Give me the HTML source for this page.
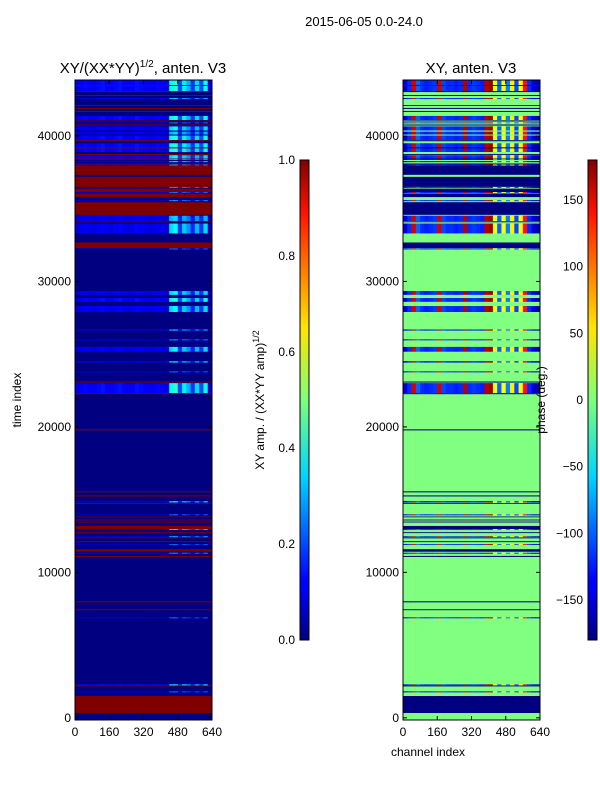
<!DOCTYPE html>
<html><head><meta charset="utf-8">
<style>
body{margin:0;background:#fff;}
svg text{font-family:"Liberation Sans",sans-serif;fill:#000;}
</style></head>
<body>
<svg id="fig" width="600" height="800" viewBox="0 0 600 800" xmlns="http://www.w3.org/2000/svg">
<defs>
<linearGradient id="jet" x1="0" y1="1" x2="0" y2="0">
<stop offset="0" stop-color="#00007f"/><stop offset="0.11" stop-color="#0000ff"/><stop offset="0.125" stop-color="#0000ff"/><stop offset="0.34" stop-color="#00d4ff"/><stop offset="0.5" stop-color="#7dff7a"/><stop offset="0.65" stop-color="#ffe600"/><stop offset="0.89" stop-color="#ff1300"/><stop offset="1" stop-color="#7f0000"/>
</linearGradient>
</defs>
<text x="364" y="26" font-size="13" text-anchor="middle">2015-06-05 0.0-24.0</text>
<text x="143" y="73" font-size="15" text-anchor="middle">XY/(XX*YY)<tspan font-size="10" dy="-6">1/2</tspan><tspan dy="6">, anten. V3</tspan></text>
<text x="471" y="73" font-size="15" text-anchor="middle">XY, anten. V3</text>
<text transform="translate(21,400) rotate(-90)" font-size="12" text-anchor="middle">time index</text>
<text x="428" y="756" font-size="12" text-anchor="middle">channel index</text>
<g id="left"></g>
<g id="right"></g>
<g id="axes"></g>
<rect x="300" y="160" width="9" height="480" fill="url(#jet)" stroke="#000" stroke-width="1"/>
<rect x="588" y="160" width="9" height="480" fill="url(#jet)" stroke="#000" stroke-width="1"/>
<text transform="translate(264,400) rotate(-90)" font-size="12" text-anchor="middle">XY amp. / (XX*YY amp)<tspan font-size="9" dy="-5">1/2</tspan></text>
<text transform="translate(545,400) rotate(-90)" font-size="12" text-anchor="middle">phase (deg.)</text>
</svg>
<script>
// time bands: [t0, t1, kind]  kind F=flagged block, L=flagged line, A=active data
const bandStart=[43500,43440,43090,43020,42750,42540,42070,41860,41650,41100,41000,40870,40720,40380,40100,39720,39640,38900,39150,38700,38350,38400,38200,38040,37970,37330,36500,36430,36150,36080,35800,35520,34580,34150,34070,33300,32600,32290,32200,29080,28600,27900,26620,25950,25170,24420,23750,23050,22330,22250,19760,15500,15220,14800,14720,13920,13790,13570,13430,12980,12910,12700,12420,12340,12080,11880,11420,11280,11060,7940,7400,6840,2230,2160,1750,330];
const bandEnd=[43850,43500,43440,43090,42820,42610,42130,41930,41720,41380,41070,40930,40790,40660,40300,40030,39710,39500,39220,38760,38680,38450,38280,38110,38040,37970,37190,36500,36380,36150,36050,35590,35450,34520,34130,33980,32680,32640,32270,29340,28860,28310,26700,26020,25500,24520,23820,23120,23010,22320,19830,15570,15290,14900,14770,13990,13840,13630,13490,13190,12970,12760,12480,12400,12140,11940,11590,11350,11130,8010,7460,6910,2300,2220,1820,1500];
const bandKind=["A","L","A","L","L","A","L","L","L","A","L","A","L","A","A","A","L","A","L","L","A","L","A","L","A","F","F","A","F","A","F","A","F","A","L","A","L","F","A","A","A","A","A","A","A","A","A","L","A","L","L","L","L","A","L","A","L","L","L","F","A","L","A","L","L","A","F","A","L","L","L","A","A","L","A","F"];
const bandLevel=[1.0,1,1.0,1,1,0.8,1,1,1,1.0,1,0.7,1,0.9,0.8,1.0,1,1.0,1,1,0.9,1,0.8,1,0.7,1,1,0.7,1,0.6,1,0.7,1,0.8,1,0.9,1,1,0.6,0.9,1.0,0.9,0.8,0.7,0.9,0.8,0.6,1,1.0,1,1,1,1,0.8,1,0.6,1,1,1,1,0.9,1,0.8,1,1,0.6,1,0.7,1,1,1,0.6,1.0,1,0.6,1];
// channel profiles (32 groups of 20 channels)
const ampProfile=[0.1,0.12,0.13,0.12,0.11,0.13,0.14,0.12,0.11,0.13,0.14,0.12,0.11,0.12,0.14,0.13,0.12,0.11,0.12,0.13,0.12,0.1,0.38,0.42,0.2,0.36,0.3,0.18,0.34,0.2,0.38,0.08];
const phaseProfile=[-150,-120,150,-100,-120,-125,-120,-115,150,-110,-120,-120,-125,-120,160,-120,-115,-120,-125,160,170,40,-100,45,-90,50,-110,40,130,-120,-150,-160];
const tMin=-150,tMax=43850,chMax=640;
const PY0=80,PY1=720;
function yPix(t){return PY1-(t-tMin)/(tMax-tMin)*(PY1-PY0);}
function xPix(ch,x0){return x0+ch/chMax*137;}
function jet(v){v=Math.max(0,Math.min(1,v));
 const r=Math.max(0,Math.min(1,1.5-Math.abs(4*v-3))),g=Math.max(0,Math.min(1,1.5-Math.abs(4*v-2))),b=Math.max(0,Math.min(1,1.5-Math.abs(4*v-1)));
 return `rgb(${Math.round(r*255)},${Math.round(g*255)},${Math.round(b*255)})`;}
const NS="http://www.w3.org/2000/svg";
function rect(g,x,y,w,h,fill,name){const r=document.createElementNS(NS,"rect");
 r.setAttribute("x",x);r.setAttribute("y",y);r.setAttribute("width",w);r.setAttribute("height",Math.max(h,0.8));r.setAttribute("fill",fill);
 
 
 g.appendChild(r);return r;}
function drawPanel(gid,x0,bg,flag,cellVal){
 const g=document.getElementById(gid);
 rect(g,x0,PY0,137,PY1-PY0,bg,"heatmap-background");
 for(let i=0;i<bandStart.length;i++){
  const y1=yPix(bandEnd[i]),y2=yPix(bandStart[i]);
  if(bandKind[i]!=="A"){rect(g,x0,y1,137,y2-y1,flag,"flagged-band");continue;}
  for(let k=0;k<ampProfile.length;k++){
   const c0=k*20,c1=c0+20;
   const xa=xPix(c0,x0),xb=xPix(c1,x0);
   rect(g,xa,y1,xb-xa+0.3,y2-y1,cellVal(k,bandLevel[i]),"heatmap-cell");
  }
 }
}
drawPanel("left",75,jet(0),jet(1),(k,l)=>jet(ampProfile[k]*l));
drawPanel("right",403,jet(0.5),jet(0),(k,l)=>jet((phaseProfile[k]+180)/360));
// axes
const ax=document.getElementById("axes");
const yTicks=[0,10000,20000,30000,40000];
const xTicks=[0,160,320,480,640];
const ampTicks=["0.0","0.2","0.4","0.6","0.8","1.0"];
const phTicks=[-150,-100,-50,0,50,100,150];
function line(x1,y1,x2,y2,name){const l=document.createElementNS(NS,"line");
 l.setAttribute("x1",x1);l.setAttribute("y1",y1);l.setAttribute("x2",x2);l.setAttribute("y2",y2);l.setAttribute("stroke","#000");l.setAttribute("stroke-width","1");
 
 
 ax.appendChild(l);}
function txt(x,y,s,anchor,name){const t=document.createElementNS(NS,"text");
 t.setAttribute("x",x);t.setAttribute("y",y);t.setAttribute("font-size","12");t.setAttribute("text-anchor",anchor);t.textContent=s;
 
 
 ax.appendChild(t);}
[75,403].forEach(x0=>{
 const f=document.createElementNS(NS,"rect");
 f.setAttribute("x",x0);f.setAttribute("y",PY0);f.setAttribute("width",137);f.setAttribute("height",PY1-PY0);f.setAttribute("fill","none");f.setAttribute("stroke","#000");
 
 
 ax.appendChild(f);
 yTicks.forEach(t=>{const y=yPix(t);line(x0,y,x0+4,y,"y-tick");line(x0+133,y,x0+137,y,"y-tick");txt(x0-4,y+4,String(t),"end","y-tick-label");});
 xTicks.forEach(c=>{const x=xPix(c,x0);line(x,PY1,x,PY1-4,"x-tick");line(x,PY0,x,PY0+4,"x-tick");txt(x,736,String(c),"middle","x-tick-label");});
});
ampTicks.forEach((s,i)=>{const y=640-i*96;line(300,y,309,y,"colorbar-tick");txt(295,y+4,s,"end","amplitude-colorbar-tick-label");});
phTicks.forEach(p=>{const y=400-p*480/360;line(588,y,597,y,"colorbar-tick");txt(583,y+4,p<0?"\u2212"+(-p):String(p),"end","phase-colorbar-tick-label");});
</script>
</body></html>
